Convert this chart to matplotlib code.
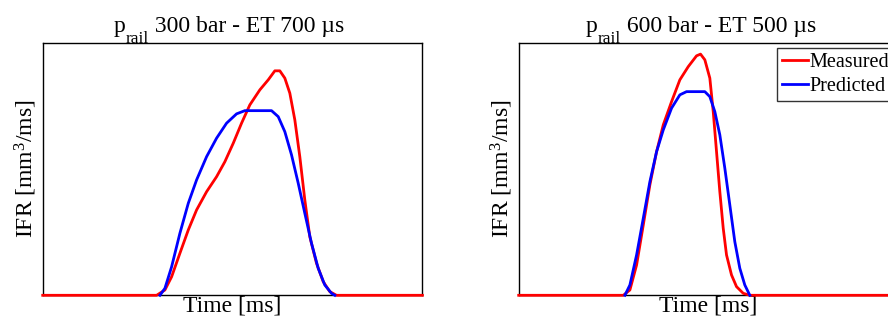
import matplotlib
matplotlib.use("Agg")
import matplotlib.pyplot as plt

plt.rcParams["font.family"] = ["Liberation Serif", "DejaVu Serif"]
plt.rcParams["mathtext.fontset"] = "custom"
plt.rcParams["mathtext.rm"] = "Liberation Serif"
plt.rcParams["mathtext.it"] = "Liberation Serif:italic"

# injection rate traces, time in ms, IFR in mm^3/ms
t_meas_300 = [0.0, 1.14, 1.223, 1.29, 1.373, 1.457, 1.54, 1.64, 1.74, 1.823, 1.907,
              1.99, 2.073, 2.173, 2.257, 2.323, 2.373, 2.423, 2.473, 2.523, 2.573,
              2.623, 2.673, 2.74, 2.807, 2.873, 2.94, 3.8]
q_meas_300 = [0.0, 0.0, 1.06, 3.7, 8.4, 13.06, 17.06, 20.7, 23.7, 26.7, 30.4,
              34.4, 38.06, 41.06, 43.06, 44.86, 44.86, 43.4, 40.4, 35.06, 27.7,
              19.06, 11.7, 6.4, 2.73, 0.73, 0.0, 0.0]
t_pred_300 = [1.173, 1.223, 1.29, 1.373, 1.457, 1.54, 1.64, 1.74, 1.84, 1.94,
              2.023, 2.29, 2.357, 2.423, 2.49, 2.557, 2.623, 2.69, 2.757, 2.823,
              2.89, 2.923]
q_pred_300 = [0.0, 1.4, 5.7, 12.4, 18.4, 23.06, 27.7, 31.4, 34.4, 36.26,
              36.9, 36.9, 35.7, 32.7, 28.06, 22.4, 16.4, 10.4, 5.4, 2.06,
              0.4, 0.0]

t_meas_600 = [0.0, 1.047, 1.113, 1.18, 1.247, 1.313, 1.38, 1.447, 1.53, 1.613,
              1.697, 1.78, 1.82, 1.863, 1.913, 1.947, 1.98, 2.013, 2.047, 2.08,
              2.13, 2.18, 2.247, 2.313, 3.8]
q_meas_600 = [0.0, 0.0, 1.06, 6.06, 14.06, 22.06, 28.7, 34.06, 38.7, 43.06,
              45.7, 47.86, 48.2, 47.06, 43.4, 36.7, 28.7, 20.7, 13.4, 8.06,
              4.06, 1.73, 0.4, 0.0, 0.0]
t_pred_600 = [1.063, 1.113, 1.18, 1.247, 1.313, 1.38, 1.447, 1.53, 1.613, 1.68,
              1.863, 1.913, 1.963, 2.013, 2.063, 2.113, 2.163, 2.213, 2.263, 2.313]
q_pred_600 = [0.0, 2.06, 8.06, 15.4, 22.7, 28.7, 33.06, 37.4, 40.06, 40.7,
              40.7, 39.7, 36.7, 32.06, 25.4, 18.06, 10.7, 5.4, 2.06, 0.0]

title_tails = [" 300 bar - ET 700 µs", " 600 bar - ET 500 µs"]
title_x0 = [0.186, 0.176]


def subscript_title(ax, x0, tail, size=17, sub_size=12.5, y=1.042):
    # "p" + lowered "rail" + rest, chained so each piece follows the previous one
    p = ax.text(x0, y, "p", transform=ax.transAxes, ha="left", va="baseline",
                fontsize=size)
    sub = ax.annotate("rail", xy=(1, y), xycoords=(p, ax.transAxes),
                      xytext=(0.5, -7.6), textcoords="offset points",
                      ha="left", va="baseline", fontsize=sub_size)
    ax.annotate(tail, xy=(1, y), xycoords=(sub, ax.transAxes),
                ha="left", va="baseline", fontsize=size)


fig = plt.figure(figsize=(8.88, 3.25), dpi=100)
ax1 = fig.add_axes([0.0481, 0.0914, 0.4276, 0.7775])
ax2 = fig.add_axes([0.5841, 0.0914, 0.4276, 0.7775])

cases = [(ax1, t_meas_300, q_meas_300, t_pred_300, q_pred_300),
         (ax2, t_meas_600, q_meas_600, t_pred_600, q_pred_600)]

for i, (ax, tm, qm, tp, qp) in enumerate(cases):
    ax.plot(tm, qm, color="red", lw=2.0, label="Measured", zorder=3,
            clip_on=False, solid_joinstyle="round")
    ax.plot(tp, qp, color="blue", lw=2.0, label="Predicted", zorder=4,
            clip_on=False, solid_joinstyle="round")
    ax.set_xlim(0, 3.8)
    ax.set_ylim(0, 50.5)
    ax.set_xticks([])
    ax.set_yticks([])
    for s in ax.spines.values():
        s.set_linewidth(1.0)
        s.set_zorder(2)
    subscript_title(ax, title_x0[i], title_tails[i])
    ax.set_xlabel("Time [ms]", fontsize=17, labelpad=0)
    ax.set_ylabel(r"IFR [mm$^3$/ms]", fontsize=17, labelpad=3)

leg = ax2.legend(loc="upper left", bbox_to_anchor=(777 / 888, 1 - 48.3 / 325),
                 bbox_transform=fig.transFigure, borderaxespad=0,
                 fontsize=14.5, frameon=True, fancybox=False,
                 handlelength=1.3, handletextpad=0.05, labelspacing=0.2,
                 borderpad=0.25)
leg.get_frame().set_edgecolor("black")
leg.get_frame().set_linewidth(1.0)

fig.savefig("out.png", dpi=100)
